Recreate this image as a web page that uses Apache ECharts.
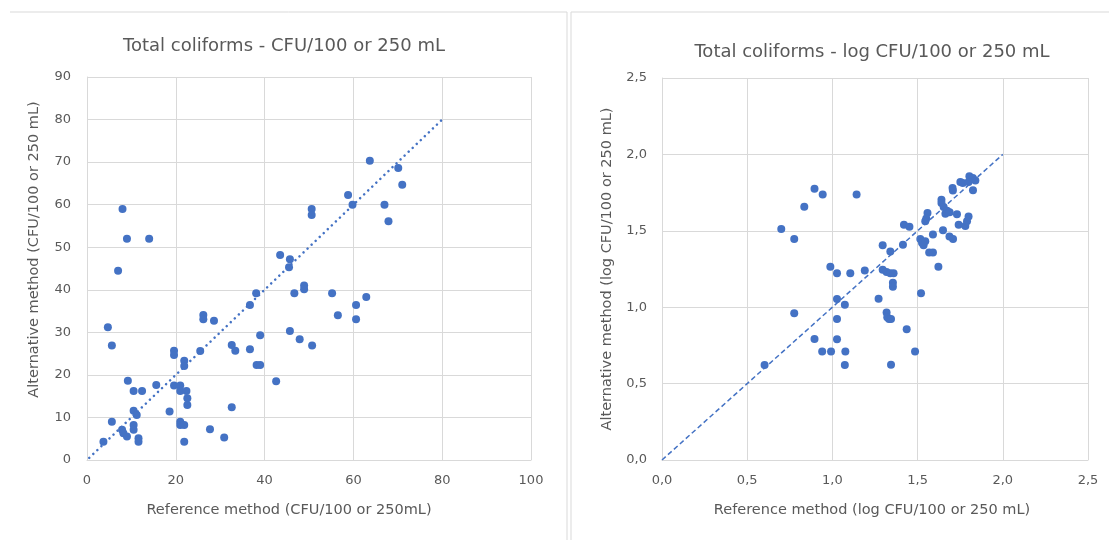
<!DOCTYPE html>
<html>
<head>
<meta charset="utf-8">
<script src="https://cdn.jsdelivr.net/npm/echarts@6/dist/echarts.min.js"></script>
<style>html,body{margin:0;padding:0;background:#fff}#c{width:1109px;height:540px}</style>
</head>
<body>
<div id="c"></div>
<script>
// Left chart: CFU values [reference, alternative]
const cfuPoints = [
  [8,59],[9,52],[14,52],[7,44.5],[50.6,59],[50.6,57.6],[43.5,48.2],[45.7,47.2],[45.5,45.3],
  [63.7,70.3],[70.1,68.6],[71,64.7],[58.8,62.3],[59.8,60],[67,60],[67.9,56.1],
  [38.1,39.2],[36.7,36.4],[46.7,39.2],[48.9,41],[48.9,40.1],[55.2,39.2],[62.9,38.3],[60.6,36.4],
  [56.5,34],[60.6,33.1],[4.7,31.2],[5.6,26.9],[26.2,34.1],[26.2,33.1],[28.6,32.7],[45.7,30.3],
  [47.9,28.4],[50.7,26.9],[39,29.3],[32.6,27],[33.4,25.7],[36.7,26],[38.2,22.3],[39,22.3],
  [42.6,18.5],[19.6,25.7],[19.6,24.7],[21.9,23.3],[21.9,22.1],[25.5,25.6],[15.6,17.6],[9.2,18.6],
  [10.5,16.2],[12.4,16.2],[19.6,17.5],[21,17.5],[21,16.2],[22.4,16.2],[22.6,14.5],[22.6,12.9],
  [18.6,11.4],[32.6,12.4],[10.5,11.6],[11.2,10.6],[5.6,9],[10.5,8.2],[10.5,7.1],[7.9,7.1],
  [8.2,6.3],[9,5.5],[11.6,5.1],[11.6,4.3],[3.7,4.3],[21,9],[21,8.2],[21.9,8.2],[21.9,4.3],
  [27.7,7.2],[30.9,5.3]
];
const cfuTrend = [[0.5,0.5],[80,80]];
const cfuTicks = [0,20,40,60,80,100];

// Right chart: log CFU values [reference, alternative]
const logPoints = [
  [0.602,0.621],[0.700,1.512],[0.776,1.447],[0.776,0.961],[0.835,1.658],[0.895,1.776],[0.943,1.737],
  [1.142,1.737],[0.895,0.792],[0.940,0.710],[0.992,0.710],[0.988,1.265],[1.027,1.223],[1.027,1.053],
  [1.073,1.016],[1.027,0.922],[1.027,0.791],[1.076,0.710],[1.073,0.622],[1.105,1.223],[1.190,1.241],
  [1.271,1.055],[1.295,1.405],[1.340,1.365],[1.295,1.245],[1.318,1.230],[1.340,1.223],[1.359,1.223],
  [1.355,1.160],[1.355,1.134],[1.318,0.965],[1.322,0.935],[1.332,0.922],[1.344,0.922],[1.344,0.623],
  [1.436,0.856],[1.485,0.710],[1.520,1.092],[1.414,1.409],[1.420,1.540],[1.452,1.527],[1.516,1.446],
  [1.526,1.422],[1.545,1.431],[1.535,1.405],[1.568,1.358],[1.590,1.358],[1.590,1.476],[1.622,1.265],
  [1.558,1.617],[1.551,1.580],[1.545,1.562],[1.640,1.704],[1.640,1.682],[1.653,1.655],[1.673,1.632],
  [1.663,1.612],[1.688,1.621],[1.731,1.609],[1.649,1.503],[1.687,1.463],[1.708,1.446],[1.741,1.540],
  [1.780,1.531],[1.790,1.562],[1.799,1.594],[1.705,1.780],[1.707,1.763],[1.751,1.820],[1.765,1.813],
  [1.804,1.857],[1.824,1.846],[1.839,1.830],[1.825,1.766],[1.799,1.820]
];
const logTrend = [[0,0],[2,2]];
const logTicks = [0,0.5,1,1.5,2,2.5];

const titles = ['Total coliforms - CFU/100 or 250 mL','Total coliforms - log CFU/100 or 250 mL'];
const xNames = ['Reference method (CFU/100 or 250mL)','Reference method (log CFU/100 or 250 mL)'];
const yNames = ['Alternative method (CFU/100 or 250 mL)','Alternative method (log CFU/100 or 250 mL)'];

const BLUE = '#4472C4', GRID = '#d9d9d9', TXT = '#595959';
const FONT = 'DejaVu Sans';
const comma = v => v.toFixed(1).replace('.', ',');

function axis(min, max, interval, fmt, margin, namePad, extra) {
  return Object.assign({
    type: 'value', min, max, interval,
    axisLine: {show: true, lineStyle: {color: GRID, width: 1}},
    axisTick: {show: false},
    splitLine: {show: true, showMinLine: true, showMaxLine: true, lineStyle: {color: GRID, width: 1}},
    axisLabel: {color: TXT, fontSize: 13, fontFamily: FONT, formatter: fmt, margin},
    nameLocation: 'middle',
    nameTextStyle: {color: TXT, fontSize: 14.5, fontFamily: FONT, padding: namePad}
  }, extra);
}

const chart = echarts.init(document.getElementById('c'), null, {renderer: 'canvas'});
chart.setOption({
  animation: false,
  backgroundColor: '#fff',
  title: [
    {text: titles[0], left: 279, top: 32, textAlign: 'center', textStyle: {color: TXT, fontSize: 18, fontWeight: 'normal', fontFamily: FONT}},
    {text: titles[1], left: 867, top: 38, textAlign: 'center', textStyle: {color: TXT, fontSize: 18, fontWeight: 'normal', fontFamily: FONT}}
  ],
  graphic: [
    {type: 'line', shape: {x1: 10, y1: 12, x2: 567, y2: 12}, style: {stroke: GRID, lineWidth: 1}},
    {type: 'line', shape: {x1: 567, y1: 12, x2: 567, y2: 540}, style: {stroke: GRID, lineWidth: 1}},
    {type: 'line', shape: {x1: 571, y1: 12, x2: 1109, y2: 12}, style: {stroke: GRID, lineWidth: 1}},
    {type: 'line', shape: {x1: 571, y1: 12, x2: 571, y2: 540}, style: {stroke: GRID, lineWidth: 1}}
  ],
  grid: [
    {left: 87, top: 77, width: 444, height: 383},
    {left: 662, top: 78, width: 426, height: 382}
  ],
  xAxis: [
    axis(cfuTicks[0], cfuTicks[cfuTicks.length-1], 20, v => String(v), 14, [0, 40, 0, 0], {gridIndex: 0, name: xNames[0], nameGap: 43}),
    axis(logTicks[0], logTicks[logTicks.length-1], 0.5, comma, 14, [0, 6, 0, 0], {gridIndex: 1, name: xNames[1], nameGap: 43})
  ],
  yAxis: [
    axis(0, 90, 10, v => String(v), 16, [0, 0, 0, 38], {gridIndex: 0, name: yNames[0], nameGap: 45}),
    axis(0, 2.5, 0.5, comma, 15, [0, 0, 0, 0], {gridIndex: 1, name: yNames[1], nameGap: 47})
  ],
  series: [
    {type: 'line', xAxisIndex: 0, yAxisIndex: 0, data: cfuTrend, symbol: 'none', silent: true,
     lineStyle: {color: BLUE, width: 2.5, type: [0.1, 5.5], cap: 'round'}},
    {type: 'scatter', xAxisIndex: 0, yAxisIndex: 0, data: cfuPoints, symbolSize: 8, itemStyle: {color: BLUE, opacity: 1}},
    {type: 'line', xAxisIndex: 1, yAxisIndex: 1, data: logTrend, symbol: 'none', silent: true,
     lineStyle: {color: BLUE, width: 1.5, type: [5, 3]}},
    {type: 'scatter', xAxisIndex: 1, yAxisIndex: 1, data: logPoints, symbolSize: 8, itemStyle: {color: BLUE, opacity: 1}}
  ]
});
</script>
</body>
</html>
